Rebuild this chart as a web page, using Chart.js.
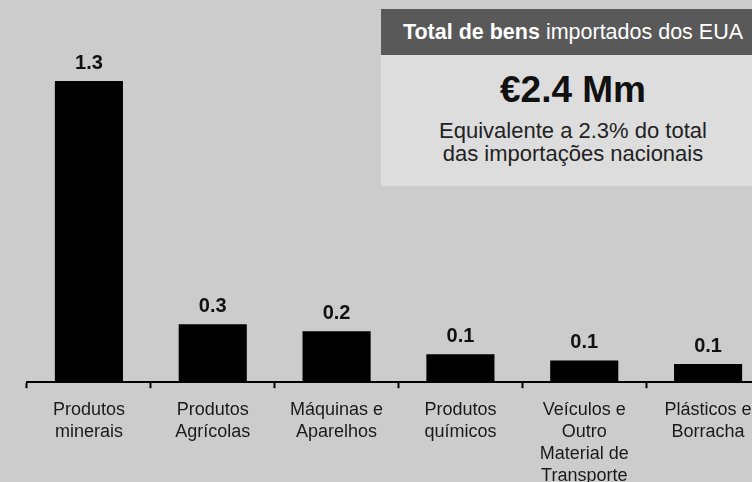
<!DOCTYPE html>
<html>
<head>
<meta charset="utf-8">
<script src="https://cdn.jsdelivr.net/npm/chart.js@4.4.0/dist/chart.umd.min.js"></script>
<style>
  html, body { margin: 0; padding: 0; background: #cccccc; overflow: hidden; }
  body { width: 752px; height: 482px; position: relative; font-family: Arial, "Liberation Sans", sans-serif; }
  #wrap { position: absolute; left: 0; top: 0; width: 772px; height: 498px; }
  #caixa { position: absolute; left: 381px; top: 9px; width: 384px; height: 177px; background: #dddddd; text-align: center; }
  #caixa .topo { background: #595959; color: #ffffff; height: 46px; line-height: 46px; font-size: 21.5px; }
  #caixa .valor { font-size: 37px; font-weight: bold; color: #111; margin-top: 14px; line-height: 42px; }
  #caixa .nota { font-size: 22px; color: #222; line-height: 23px; margin-top: 8px; }
</style>
</head>
<body>
<div id="wrap"><canvas id="barChart" width="772" height="498"></canvas></div>
<div id="caixa">
  <div class="topo"><b>Total de bens</b> importados dos EUA</div>
  <div class="valor">€2.4 Mm</div>
  <div class="nota">Equivalente a 2.3% do total<br>das importações nacionais</div>
</div>
<script>
// Categorias e valores (mil milhões de euros)
const categorias = [
    ["Produtos", "minerais"],
    ["Produtos", "Agrícolas"],
    ["Máquinas e", "Aparelhos"],
    ["Produtos", "químicos"],
    ["Veículos e", "Outro", "Material de", "Transporte"],
    ["Plásticos e", "Borracha"]
];
const valores = [1.30, 0.25, 0.22, 0.12, 0.094, 0.078];

const fonte = 'Arial, "Liberation Sans", sans-serif';

// Rótulos por cima das barras
const rotulos = {
    id: 'rotulos',
    afterDatasetsDraw(chart) {
        const ctx = chart.ctx;
        const meta = chart.getDatasetMeta(0);
        ctx.save();
        ctx.font = 'bold 20px ' + fonte;
        ctx.fillStyle = '#111';
        ctx.textAlign = 'center';
        ctx.textBaseline = 'bottom';
        meta.data.forEach((bar, i) => {
            ctx.fillText(valores[i].toFixed(1), bar.x, bar.y - 8);
        });
        ctx.restore();
    }
};

new Chart(document.getElementById("barChart"), {
    type: "bar",
    data: {
        labels: categorias,
        datasets: [{
            data: valores,
            backgroundColor: "#000000",
            barPercentage: 0.55,
            categoryPercentage: 1
        }]
    },
    options: {
        responsive: false,
        animation: false,
        layout: { padding: { left: 27, right: 2, top: 0 } },
        plugins: { legend: { display: false }, tooltip: { enabled: false } },
        scales: {
            x: {
                grid: { offset: true, drawOnChartArea: false, drawTicks: true, tickLength: 6, tickColor: "#000", tickWidth: 2 },
                border: { display: true, color: "#000", width: 2 },
                ticks: {
                    color: "#1a1a1a",
                    padding: 11,
                    maxRotation: 0,
                    autoSkip: false,
                    font: { family: fonte, size: 18, lineHeight: 1.22 }
                }
            },
            y: {
                display: false,
                min: 0,
                max: 1.65
            }
        }
    },
    plugins: [rotulos]
});
</script>
</body>
</html>
